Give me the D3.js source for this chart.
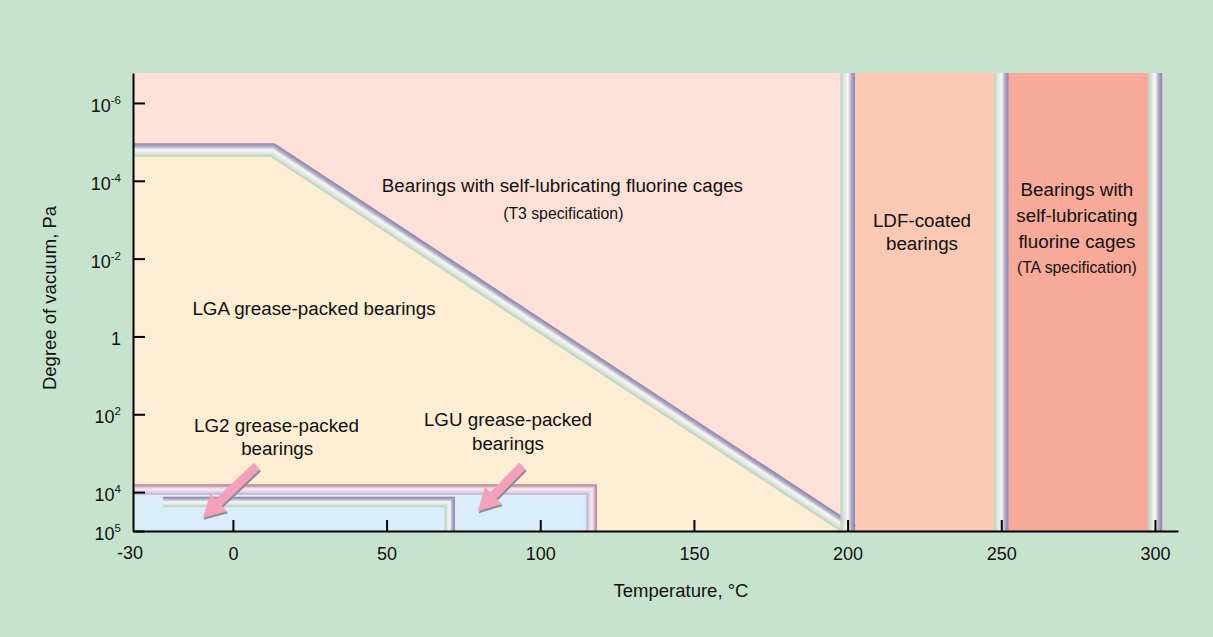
<!DOCTYPE html>
<html>
<head>
<meta charset="utf-8"/>
<script src="https://d3js.org/d3.v7.min.js"></script>
<style>
	body { margin: 0; background: #c8e3cd; }
	svg { display: block; }
	text { font-family: "Liberation Sans", Arial, Helvetica, sans-serif; fill: #111; }
</style>
</head>
<body>
<div id="chart"></div>
<script>
// temperature (°C) and pressure (log10 Pa) values
var tempTicks = [0, 50, 100, 150, 200, 250, 300];
var pressureTicks = [-6, -4, -2, 0, 2, 4, 5];

// LGA / T3 limit line
var boundaryT = [-32.5, 12.9, 201.5];
var boundaryP = [-4.79, -4.79, 5];
// LGU limit
var lguT = [-32.5, 116.7, 116.7];
var lguP = [3.935, 3.935, 5];
// LG2 limit
var lg2T = [-22.7, 70.5, 70.5];
var lg2P = [4.256, 4.256, 5];

// high temperature bands
var bandEdges = [-32.5, 200, 250, 300];
var bandFills = ["#fde1d8", "#fac8b3", "#f6aa97"];
var dividerT = [200, 250, 300];

var labels = [
	{t: 107.2, p: -3.89, s: 18.8, txt: "Bearings with self-lubricating fluorine cages"},
	{t: 107.5, p: -3.17, s: 15.8, txt: "(T3 specification)"},
	{t: 26.4, p: -0.73, s: 18.8, txt: "LGA grease-packed bearings"},
	{t: 14.2, p: 2.28, s: 18.8, txt: "LG2 grease-packed"},
	{t: 14.4, p: 2.87, s: 18.8, txt: "bearings"},
	{t: 89.5, p: 2.12, s: 18.8, txt: "LGU grease-packed"},
	{t: 89.5, p: 2.74, s: 18.8, txt: "bearings"},
	{t: 224.2, p: -2.99, s: 18.8, txt: "LDF-coated"},
	{t: 224.2, p: -2.40, s: 18.8, txt: "bearings"},
	{t: 274.6, p: -3.79, s: 18.8, txt: "Bearings with"},
	{t: 274.6, p: -3.12, s: 18.8, txt: "self-lubricating"},
	{t: 274.6, p: -2.45, s: 18.8, txt: "fluorine cages"},
	{t: 274.6, p: -1.78, s: 15.8, txt: "(TA specification)"}
];

// arrows: tail -> tip
var arrows = [
	{t0: 7.8, p0: 3.33, t1: -9.8, p1: 4.66},
	{t0: 94.2, p0: 3.33, t1: 79.7, p1: 4.49}
];

var W = 1213, H = 637;
var svg = d3.select('#chart').append('svg').attr('width', W).attr('height', H);
svg.append('rect').attr('width', W).attr('height', H).attr('fill', '#c8e3cd');

var x = d3.scaleLinear().domain([-32.5, 307.5]).range([133, 1178]);
var y = d3.scaleLog().domain([1e5, Math.pow(10, -6.77)]).range([531, 73]);
var P = function(e) { return Math.pow(10, e); };
var yTop = y.domain()[1];

svg.append('clipPath').attr('id', 'plot')
	.append('rect').attr('x', x(-32.5)).attr('y', y(yTop))
	.attr('width', x(307.5) - x(-32.5)).attr('height', y(1e5) - y(yTop));

var g = svg.append('g').attr('clip-path', 'url(#plot)');

// bands
bandFills.forEach(function(c, i) {
	g.append('rect')
		.attr('x', x(bandEdges[i])).attr('y', y(yTop))
		.attr('width', x(bandEdges[i + 1]) - x(bandEdges[i]))
		.attr('height', y(1e5) - y(yTop))
		.attr('fill', c);
});

var area = d3.line().x(function(d) { return x(d[0]); }).y(function(d) { return y(P(d[1])); });

// LGA region
var lga = boundaryT.map(function(t, i) { return [t, boundaryP[i]]; });
lga.push([boundaryT[0], 5]);
g.append('path').attr('d', area(lga) + 'Z').attr('fill', '#fdedd2');

// LG2/LGU region
var lgu = lguT.map(function(t, i) { return [t, lguP[i]]; });
lgu.push([lguT[0], 5]);
g.append('path').attr('d', area(lgu) + 'Z').attr('fill', '#d9edfb');

// offset a pixel polyline along its left normal
function offsetLine(pts, d) {
	return pts.map(function(p, i) {
		var ns = [];
		if (i > 0) ns.push(norm(pts[i - 1], p));
		if (i < pts.length - 1) ns.push(norm(p, pts[i + 1]));
		var mx = d3.sum(ns, function(n) { return n[0]; }), my = d3.sum(ns, function(n) { return n[1]; });
		var l = Math.hypot(mx, my);
		mx /= l; my /= l;
		var k = d / (mx * ns[0][0] + my * ns[0][1]);
		return [p[0] + mx * k, p[1] + my * k];
	});
}
function norm(a, b) {
	var dx = b[0] - a[0], dy = b[1] - a[1], l = Math.hypot(dx, dy);
	return [-dy / l, dx / l];
}

var purplePipe = ["#8a82a8", "#aea8c6", "#f8f8f8", "#dfe9df", "#bdd2c0"];
var pinkPipe = ["#a97c91", "#d6b1c1", "#f8eef3", "#e2d5e8", "#c1b2d5"];

function pipe(parent, pts, width, colors) {
	var ip = d3.piecewise(d3.interpolateRgb, colors);
	var n = 14;
	var path = d3.line();
	for (var k = 0; k < n; k++) {
		var t = (k + 0.5) / n;
		parent.append('path')
			.attr('d', path(offsetLine(pts, -width / 2 + t * width)))
			.attr('fill', 'none')
			.attr('stroke', ip(t))
			.attr('stroke-width', width / n + 0.6)
			.attr('stroke-linejoin', 'miter');
	}
}
var toPx = function(ts, ps) { return ts.map(function(t, i) { return [x(t), y(P(ps[i]))]; }); };

pipe(g, toPx(boundaryT, boundaryP), 13, purplePipe);
pipe(g, toPx(lguT, lguP), 10, pinkPipe);
pipe(g, toPx(lg2T, lg2P), 10, purplePipe);
dividerT.forEach(function(t) {
	pipe(g, [[x(t), y(yTop)], [x(t), y(1e5)]], 14, purplePipe);
});

// axes
var xAxis = svg.append('g').attr('transform', 'translate(0,' + y(1e5) + ')');
xAxis.call(d3.axisBottom(x).tickValues(tempTicks).tickSizeInner(-11).tickSizeOuter(0).tickPadding(16));
xAxis.select('.domain').attr('stroke', '#000').attr('stroke-width', 2);
xAxis.selectAll('.tick line').attr('stroke', '#000').attr('stroke-width', 2);
xAxis.selectAll('.tick text').attr('font-size', 18).attr('fill', '#111')
	.style('font-family', '"Liberation Sans", Arial, sans-serif');
xAxis.append('text').attr('x', x(-33.5)).attr('y', 27.5).attr('text-anchor', 'middle')
	.attr('font-size', 18).text('-30');

var yAxis = svg.append('g').attr('transform', 'translate(' + x(-32.5) + ',0)');
yAxis.call(d3.axisLeft(y).tickValues(pressureTicks.map(P)).tickSizeInner(-12).tickSizeOuter(0).tickFormat(''));
yAxis.select('.domain').attr('stroke', '#000').attr('stroke-width', 2);
yAxis.selectAll('.tick line').attr('stroke', '#000').attr('stroke-width', 2);
pressureTicks.forEach(function(e) {
	var t = yAxis.append('text').attr('x', -12).attr('y', y(P(e)) + 9)
		.attr('text-anchor', 'end').attr('font-size', 18);
	if (e === 0) { t.text('1'); return; }
	t.append('tspan').text('10');
	t.append('tspan').attr('dy', -8).attr('font-size', 11.5).text(e);
});

// axis titles
svg.append('text').attr('transform', 'translate(56,298) rotate(-90)')
	.attr('text-anchor', 'middle').attr('font-size', 18.5).text('Degree of vacuum, Pa');
svg.append('text').attr('x', 681).attr('y', 597)
	.attr('text-anchor', 'middle').attr('font-size', 18.5).text('Temperature, \u00b0C');

// region labels
svg.selectAll('text.lbl').data(labels).enter().append('text')
	.attr('class', 'lbl')
	.attr('x', function(d) { return x(d.t); })
	.attr('y', function(d) { return y(P(d.p)); })
	.attr('dy', '0.35em')
	.attr('text-anchor', 'middle')
	.attr('font-size', function(d) { return d.s; })
	.text(function(d) { return d.txt; });

// arrows
function arrowPts(a) {
	var x0 = x(a.t0), y0 = y(P(a.p0)), x1 = x(a.t1), y1 = y(P(a.p1));
	var dx = x1 - x0, dy = y1 - y0, l = Math.hypot(dx, dy);
	var ux = dx / l, uy = dy / l, nx = -uy, ny = ux;
	var sw = 4.5, hw = 12, hl = 22;
	var bx = x1 - ux * hl, by = y1 - uy * hl;
	return [
		[x0 + nx * sw, y0 + ny * sw], [bx + nx * sw, by + ny * sw], [bx + nx * hw, by + ny * hw],
		[x1, y1],
		[bx - nx * hw, by - ny * hw], [bx - nx * sw, by - ny * sw], [x0 - nx * sw, y0 - ny * sw]
	];
}
arrows.forEach(function(a) {
	var pts = arrowPts(a);
	svg.append('polygon').attr('points', pts.join(' ')).attr('fill', '#8e8e8e')
		.attr('transform', 'translate(1,2)');
	svg.append('polygon').attr('points', pts.join(' ')).attr('fill', '#f3a0bd');
});
</script>
</body>
</html>
